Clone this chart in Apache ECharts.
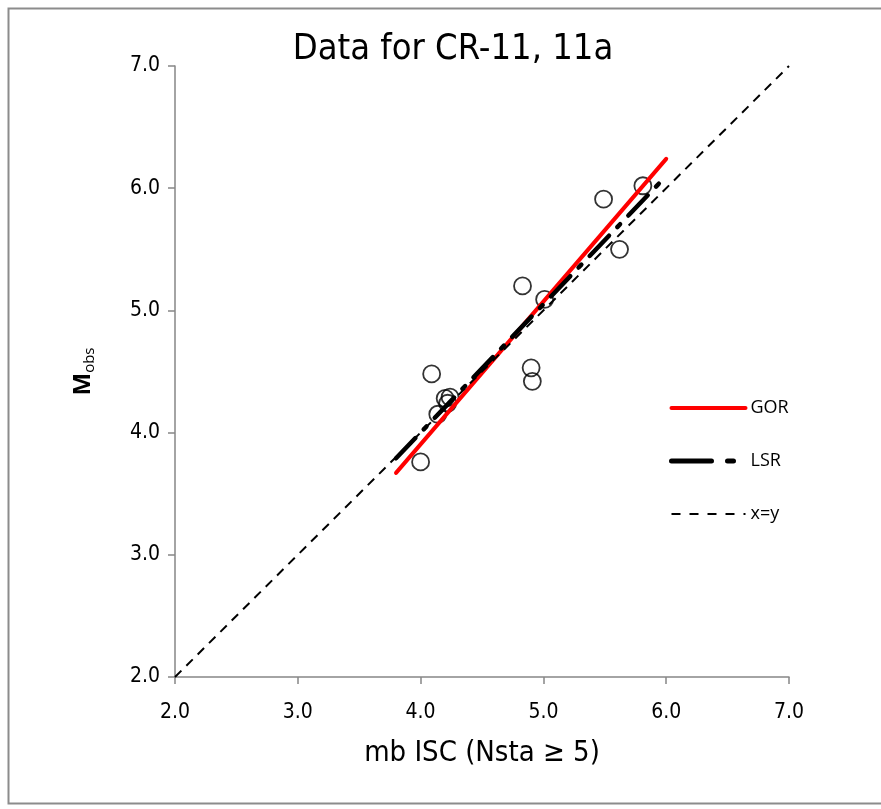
<!DOCTYPE html>
<html>
<head>
<meta charset="utf-8">
<script src="https://cdn.jsdelivr.net/npm/echarts@6/dist/echarts.min.js"></script>
<style>html,body{margin:0;padding:0;background:#fff}#c{width:881px;height:809px}</style>
</head>
<body>
<div id="c"></div>
<script>
// Observed data (mb ISC, Mobs)
const obsX = [4.00, 4.09, 4.14, 4.20, 4.22, 4.24, 4.83, 4.90, 4.91, 5.01, 5.49, 5.62, 5.81];
const obsY = [3.76, 4.48, 4.15, 4.28, 4.24, 4.29, 5.20, 4.53, 4.42, 5.09, 5.91, 5.50, 6.02];
// Regression lines (endpoints)
const gorX = [3.80, 6.00];
const gorY = [3.67, 6.24];
const lsrX = [3.80, 6.00];
const lsrY = [3.79, 6.10];
const xyX = [2.0, 7.0];
const xyY = [2.0, 7.0];
const axisTicks = [2.0, 3.0, 4.0, 5.0, 6.0, 7.0];

const pairs = (xs, ys) => xs.map((x, i) => [x, ys[i]]);
const axisColor = '#868686';
const font = "'DejaVu Sans Condensed', 'Liberation Sans', sans-serif";

const chart = echarts.init(document.getElementById('c'), null, {renderer: 'canvas'});
chart.setOption({
  animation: false,
  backgroundColor: '#fff',
  title: {
    text: 'Data for CR-11, 11a',
    left: 448, top: 27, textAlign: 'center',
    textStyle: {fontFamily: font, fontSize: 36, fontWeight: 'normal', color: '#000'}
  },
  graphic: [{
    type: 'rect', left: 6, top: 6, z: -1,
    shape: {x: 0, y: 0, width: 890, height: 795},
    style: {fill: 'none', stroke: '#8c8c8c', lineWidth: 2}
  }],
  grid: {left: 175, right: 92, top: 66, bottom: 132},
  legend: {
    data: [
      {name: 'GOR', itemStyle: {opacity: 0}, lineStyle: {width: 4, color: '#ff0000'}},
      {name: 'LSR', itemStyle: {opacity: 0}, lineStyle: {width: 5, color: '#000', type: [40, 16, 6, 16]}},
      {name: 'x=y', itemStyle: {opacity: 0}, lineStyle: {width: 2, color: '#000', type: [9, 9]}}
    ],
    orient: 'vertical', left: 664, top: 394,
    itemWidth: 74, itemHeight: 14, itemGap: 35,
    textStyle: {fontFamily: "'Open Sans', sans-serif", fontSize: 18, color: '#000'}
  },
  xAxis: {
    type: 'value', min: axisTicks[0], max: axisTicks[axisTicks.length - 1], interval: 1,
    name: 'mb ISC (Nsta \u2265 5)', nameLocation: 'middle', nameGap: 62,
    nameTextStyle: {fontFamily: font, fontSize: 29, color: '#000'},
    axisLine: {lineStyle: {color: axisColor, width: 1.5}},
    axisTick: {show: true, inside: false, length: 7, lineStyle: {color: axisColor, width: 1.5}},
    axisLabel: {fontFamily: font, fontSize: 21, color: '#000', margin: 25, formatter: v => v.toFixed(1)},
    splitLine: {show: false}
  },
  yAxis: {
    type: 'value', min: axisTicks[0], max: axisTicks[axisTicks.length - 1], interval: 1,
    name: '{m|M}{s|obs}', nameLocation: 'middle', nameGap: 78, nameRotate: 90,
    nameTextStyle: {
      rich: {
        m: {fontFamily: "'Open Sans', sans-serif", fontSize: 24, fontWeight: 'bold', color: '#000'},
        s: {fontFamily: "'Open Sans', sans-serif", fontSize: 15, color: '#000', padding: [12, 0, 0, 0]}
      }
    },
    axisLine: {lineStyle: {color: axisColor, width: 1.5}},
    axisTick: {show: true, inside: false, length: 7, lineStyle: {color: axisColor, width: 1.5}},
    axisLabel: {fontFamily: font, fontSize: 21, color: '#000', margin: 15, formatter: v => v.toFixed(1)},
    splitLine: {show: false}
  },
  series: [
    {
      name: 'obs', type: 'scatter', data: pairs(obsX, obsY),
      symbol: 'circle', symbolSize: 17,
      itemStyle: {color: 'rgba(0,0,0,0)', borderColor: '#000', borderWidth: 1.8},
      z: 2
    },
    {
      name: 'GOR', type: 'line', data: pairs(gorX, gorY), symbol: 'none',
      lineStyle: {color: '#ff0000', width: 4, cap: 'round'},
      itemStyle: {color: '#ff0000'}, z: 3
    },
    {
      name: 'LSR', type: 'line', data: pairs(lsrX, lsrY), symbol: 'none',
      lineStyle: {color: '#000', width: 4.5, type: [28, 12, 4, 12], cap: 'round'},
      itemStyle: {color: '#000'}, z: 4
    },
    {
      name: 'x=y', type: 'line', data: pairs(xyX, xyY), symbol: 'none',
      lineStyle: {color: '#000', width: 2, type: [9, 7]},
      itemStyle: {color: '#000'}, z: 5
    }
  ]
});
</script>
</body>
</html>
